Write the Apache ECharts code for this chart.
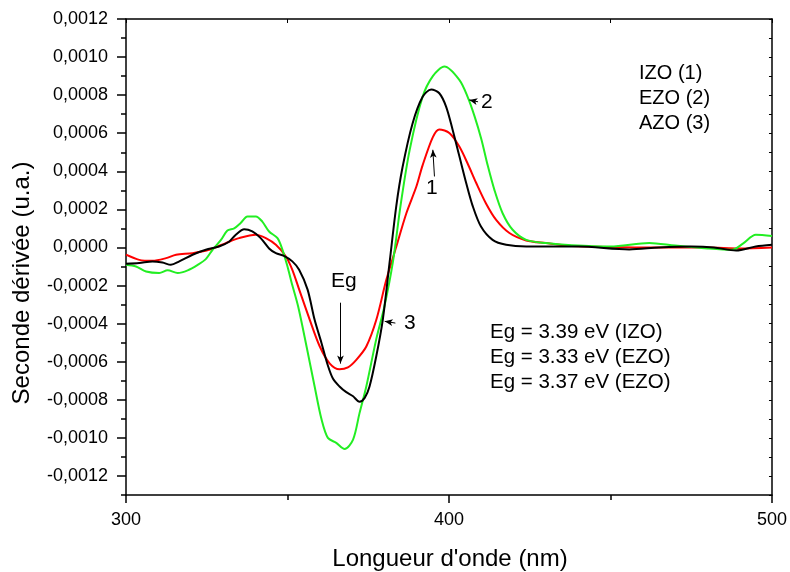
<!DOCTYPE html>
<html>
<head>
<meta charset="utf-8">
<script src="https://cdn.jsdelivr.net/npm/echarts@6/dist/echarts.min.js"></script>
<style>
  html, body { margin: 0; padding: 0; background: #fff; }
  #chartmain { width: 790px; height: 572px; }
</style>
</head>
<body>
<div id="chartmain"></div>
<script>
// longueur d'onde (nm) et seconde dérivée (u.a.)
var izoX = [300, 304.1, 308.2, 312.4, 315.5, 320.6, 325.7, 330.9, 335, 340.2, 343.3, 346.4, 349.5, 351.5, 353.6, 356.9, 360, 363.1, 366.1, 368.7, 371.3, 374.4, 377.5, 380.6, 383.7, 386.8, 389.9, 391.8, 395, 397, 400.2, 403.2, 405.8, 408.4, 411.5, 414.6, 418.7, 423.9, 430, 438, 450, 465, 480, 490, 500];
var izoY = [-0.000038, -0.000065, -0.00007, -0.000056, -0.000038, -0.00003, -0.000012, 0.000023, 0.000049, 0.000067, 0.000049, 0.000014, -0.000047, -0.000117, -0.00022, -0.00038, -0.00052, -0.00061, -0.00064, -0.00063, -0.00059, -0.00052, -0.00038, -0.00017, 0.000005, 0.00018, 0.00032, 0.00043, 0.00058, 0.00062, 0.0006, 0.00053, 0.00044, 0.00034, 0.00023, 0.000145, 0.000076, 0.000037, 0.000023, 0.000008, 0.000002, 0, 0, -0.000005, 0];

var ezoX = [300, 303.1, 306.2, 310.3, 312.9, 316, 319.1, 322.2, 324.7, 326.8, 329.4, 331.4, 333.5, 335.5, 337.6, 340.2, 342.2, 344.3, 346.9, 348.4, 350, 351.2, 353.3, 355.9, 358.4, 360.5, 362.5, 365.1, 367.7, 370.3, 372.3, 374.4, 377.5, 380, 382.6, 385, 387.8, 391.8, 395, 398.6, 403.2, 405.8, 407.9, 410, 412, 414.1, 416.6, 419.7, 423.9, 430, 438, 450, 462, 470, 480, 487.6, 491, 495, 500];
var ezoY = [-0.000091, -0.0001, -0.000126, -0.000134, -0.00012, -0.000134, -0.00012, -0.000091, -0.000061, -0.000012, 0.00004, 0.000089, 0.0001, 0.000128, 0.000163, 0.000163, 0.000136, 0.000084, 0.000049, -0.00001, -0.0001, -0.00018, -0.00031, -0.00052, -0.00073, -0.0009, -0.001, -0.001026, -0.001058, -0.001009, -0.00087, -0.00073, -0.00048, -0.00031, -0.00008, 0.00022, 0.00051, 0.00079, 0.0009, 0.00095, 0.00088, 0.00079, 0.00069, 0.00057, 0.00043, 0.0003, 0.00018, 0.000093, 0.00004, 0.000023, 0.000012, 0.000005, 0.000024, 0.00001, -0.000005, -0.000012, 0.00002, 0.000067, 0.00006];

var azoX = [300, 304.1, 308.2, 311.3, 313.9, 316.5, 320.6, 324.7, 328.8, 331.9, 334, 336.6, 339.1, 341.7, 344.3, 346.4, 348.9, 351.5, 353.6, 356.2, 358.4, 360.5, 362.5, 364.1, 366.1, 368.2, 370.2, 372.3, 373.9, 375.4, 377.5, 379.5, 381.6, 383.7, 385.6, 388.7, 391.8, 394.5, 397, 399.1, 401.1, 403.2, 405.3, 407.3, 409.9, 413.5, 417.7, 423.9, 440, 455.8, 465, 475, 482, 488.9, 495, 500];
var azoY = [-0.000086, -0.000082, -0.000073, -0.000079, -0.000091, -0.000073, -0.000038, -0.000012, 0.000005, 0.00003, 0.000067, 0.000096, 0.000084, 0.000049, -0.000005, -0.00003, -0.000044, -0.000073, -0.000117, -0.00022, -0.00038, -0.0005, -0.00062, -0.00069, -0.00073, -0.00076, -0.00078, -0.00081, -0.00079, -0.00073, -0.00057, -0.00038, -0.00008, 0.00022, 0.00042, 0.00065, 0.00079, 0.00083, 0.00081, 0.00074, 0.00062, 0.00048, 0.00034, 0.00022, 0.00011, 0.00004, 0.000014, 0.000005, 0.000005, -0.00001, 0, 0.000005, 0, -0.000016, 0.000005, 0.000014];

var yMajorTicks = [-0.0012, -0.001, -0.0008, -0.0006, -0.0004, -0.0002, 0, 0.0002, 0.0004, 0.0006, 0.0008, 0.001, 0.0012];

function pairs(xs, ys) {
    return xs.map(function (x, i) { return [x, ys[i]]; });
}

var fontTxt = 'Liberation Sans, Arial, sans-serif';

var option = {
    animation: false,
    backgroundColor: '#fff',
    grid: { left: 126, right: 17, top: 19, bottom: 77 },
    xAxis: [{
        type: 'value', min: 300, max: 500, interval: 100, position: 'bottom',
        axisLine: { show: true, onZero: false, lineStyle: { color: '#000', width: 1.5 } },
        axisTick: { show: true, length: 8, lineStyle: { color: '#000', width: 1.5 } },
        minorTick: { show: true, splitNumber: 2, length: 5, lineStyle: { color: '#000', width: 1.5 } },
        axisLabel: { color: '#000', fontSize: 18, fontFamily: fontTxt, margin: 16 },
        splitLine: { show: false }
    }, {
        type: 'value', min: 300, max: 500, interval: 100, position: 'top',
        axisLine: { show: true, onZero: false, lineStyle: { color: '#000', width: 1.5 } },
        axisTick: { show: true, inside: true, length: 4, lineStyle: { color: '#000' } },
        minorTick: { show: true, splitNumber: 2, length: 4, lineStyle: { color: '#000' } },
        axisLabel: { show: false },
        splitLine: { show: false }
    }],
    yAxis: [{
        type: 'value', min: -0.0013, max: 0.0012, interval: 0.0001, position: 'left',
        axisLine: { show: true, onZero: false, lineStyle: { color: '#000', width: 1.5 } },
        axisTick: { show: true, length: 5, lineStyle: { color: '#000', width: 1.5 } },
        axisLabel: {
            color: '#000', fontSize: 18, fontFamily: fontTxt, margin: 18,
            formatter: function (v) {
                var k = Math.round(v * 10000);
                if (k % 2 !== 0) return '';
                return (k / 10000).toFixed(4).replace('.', ',');
            }
        },
        splitLine: { show: false }
    }, {
        type: 'value', min: -0.0013, max: 0.0012, position: 'left',
        axisLine: { show: false },
        axisTick: { show: true, length: 9, customValues: yMajorTicks, lineStyle: { color: '#000', width: 1.5 } },
        axisLabel: { show: false },
        splitLine: { show: false }
    }, {
        type: 'value', min: -0.0013, max: 0.0012, interval: 0.0001, position: 'right',
        axisLine: { show: true, onZero: false, lineStyle: { color: '#000', width: 1.5 } },
        axisTick: { show: true, inside: true, length: 3, lineStyle: { color: '#000' } },
        axisLabel: { show: false },
        splitLine: { show: false }
    }],
    series: [{
        name: 'IZO (1)', type: 'line', smooth: 0.3, showSymbol: false,
        lineStyle: { color: '#ff0000', width: 2 },
        data: pairs(izoX, izoY)
    }, {
        name: 'EZO (2)', type: 'line', smooth: 0.3, showSymbol: false,
        lineStyle: { color: '#22ee22', width: 2 },
        data: pairs(ezoX, ezoY)
    }, {
        name: 'AZO (3)', type: 'line', smooth: 0.3, showSymbol: false,
        lineStyle: { color: '#000', width: 2 },
        data: pairs(azoX, azoY),
        markLine: {
            silent: true, symbol: ['none', 'arrow'], symbolSize: [5, 8],
            lineStyle: { color: '#000', width: 1, type: 'solid' },
            label: { show: false },
            data: [
                [{ coord: [366.4, -0.00029] }, { coord: [366.4, -0.00061] }],
                [{ coord: [383.4, -0.000397] }, { coord: [380.1, -0.000388] }],
                [{ coord: [409, 0.000765] }, { coord: [406.3, 0.000775] }],
                [{ coord: [395.5, 0.000373] }, { coord: [395, 0.000513] }]
            ]
        }
    }],
    graphic: [
        { type: 'text', left: 331, top: 271, style: { text: 'Eg', fontSize: 21, fontFamily: fontTxt, fill: '#000' } },
        { type: 'text', left: 404, top: 313, style: { text: '3', fontSize: 21, fontFamily: fontTxt, fill: '#000' } },
        { type: 'text', left: 481, top: 92, style: { text: '2', fontSize: 21, fontFamily: fontTxt, fill: '#000' } },
        { type: 'text', left: 426, top: 178, style: { text: '1', fontSize: 21, fontFamily: fontTxt, fill: '#000' } },
        { type: 'text', left: 639, top: 61, style: { text: 'IZO (1)\nEZO (2)\nAZO (3)', fontSize: 20, lineHeight: 25, fontFamily: fontTxt, fill: '#000' } },
        { type: 'text', left: 490, top: 320, style: { text: 'Eg = 3.39 eV (IZO)\nEg = 3.33 eV (EZO)\nEg = 3.37 eV (EZO)', fontSize: 20.5, lineHeight: 25, fontFamily: fontTxt, fill: '#000' } },
        { type: 'text', x: 450, y: 559, style: { text: "Longueur d'onde (nm)", fontSize: 24, fontFamily: fontTxt, fill: '#000', align: 'center', verticalAlign: 'middle' } },
        { type: 'text', x: 22, y: 283, rotation: Math.PI / 2, style: { text: 'Seconde dérivée (u.a.)', fontSize: 24, fontFamily: fontTxt, fill: '#000', align: 'center', verticalAlign: 'middle' } }
    ]
};

var myChart = echarts.init(document.getElementById('chartmain'));
myChart.setOption(option);
</script>
</body>
</html>
